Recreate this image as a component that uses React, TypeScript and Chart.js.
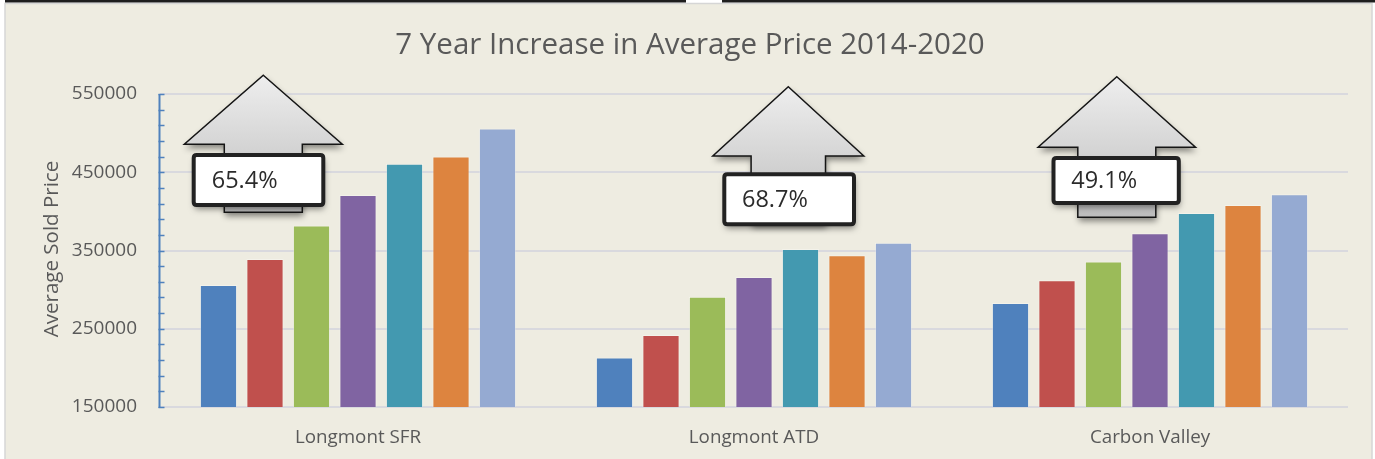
import React, { useEffect, useRef } from "react";
import { Chart, registerables } from "chart.js";

Chart.register(...registerables);

const CATEGORIES = ["Longmont SFR", "Longmont ATD", "Carbon Valley"];
const YEARS = ["2014", "2015", "2016", "2017", "2018", "2019", "2020"];
const V2014 = [306000, 213400, 283000];
const V2015 = [339000, 242000, 312000];
const V2016 = [382000, 291000, 336000];
const V2017 = [421000, 316000, 372000];
const V2018 = [461000, 352000, 398000];
const V2019 = [470000, 344000, 408000];
const V2020 = [506000, 360000, 422000];
const SERIES = [V2014, V2015, V2016, V2017, V2018, V2019, V2020];
const INCREASE_LABELS = ["65.4%", "68.7%", "49.1%"];
const Y_MIN = 150000;
const Y_MAX = 550000;
const Y_STEP = 100000;
const Y_MINOR_STEP = 20000;

const COLORS = ["#4F81BD", "#C0504D", "#9BBB59", "#8064A2", "#4399B0", "#DD843F", "#95AAD2"];
const FONT = "'Open Sans', 'DejaVu Sans', sans-serif";
const TEXT_COLOR = "#595959";
const TITLE = "7 Year Increase in Average Price 2014-2020";
const Y_TITLE = "Average Sold Price";

// annotation layout (pixel offsets relative to arrow tip)
const ARROW_LAYOUT = [
  { dx: -94.7, tipValue: 574000, headHalf: 79, headH: 69, shaftHalf: 39, shaftLen: 137, box: [-71.6, 62, 77.7, 131.7], textDx: -51.6 },
  { dx: 34.3, tipValue: 559300, headHalf: 75.5, headH: 69.3, shaftHalf: 37.2, shaftLen: 137, box: [-66, 67.7, 85.6, 139.6], textDx: -46.3 },
  { dx: -33.2, tipValue: 572100, headHalf: 78.7, headH: 70.6, shaftHalf: 39, shaftLen: 140.6, box: [-65.3, 64, 79.3, 128.3], textDx: -45.6 },
];

function roundRect(ctx: CanvasRenderingContext2D, x: number, y: number, w: number, h: number, r: number) {
  ctx.beginPath();
  ctx.moveTo(x + r, y);
  ctx.lineTo(x + w - r, y);
  ctx.quadraticCurveTo(x + w, y, x + w, y + r);
  ctx.lineTo(x + w, y + h - r);
  ctx.quadraticCurveTo(x + w, y + h, x + w - r, y + h);
  ctx.lineTo(x + r, y + h);
  ctx.quadraticCurveTo(x, y + h, x, y + h - r);
  ctx.lineTo(x, y + r);
  ctx.quadraticCurveTo(x, y, x + r, y);
  ctx.closePath();
}

const backgroundPlugin = {
  id: "bgPlugin",
  beforeDraw(chart: any) {
    const { ctx, width, height } = chart;
    ctx.save();
    ctx.fillStyle = "#FFFFFF";
    ctx.fillRect(0, 0, width, height);
    ctx.fillStyle = "#EEECE1";
    ctx.fillRect(5, 3, width - 8, height - 3);
    ctx.strokeStyle = "#D6D6D6";
    ctx.lineWidth = 1.5;
    ctx.strokeRect(5, 3.5, width - 8, height);
    ctx.fillStyle = "#1E1E1E";
    ctx.fillRect(5, 0, 681, 2.5);
    ctx.fillRect(722, 0, width - 722, 2.5);
    // title
    ctx.fillStyle = TEXT_COLOR;
    ctx.font = `29.5px ${FONT}`;
    ctx.textAlign = "center";
    ctx.textBaseline = "middle";
    ctx.fillText(TITLE, 690, 46);
    // y title
    ctx.save();
    ctx.translate(52, 249);
    ctx.rotate(-Math.PI / 2);
    ctx.font = `20.5px ${FONT}`;
    ctx.fillText(Y_TITLE, 0, 0);
    ctx.restore();
    ctx.restore();
  },
  afterDatasetsDraw(chart: any) {
    const { ctx, chartArea, scales } = chart;
    const y = scales.y;
    const x = scales.x;
    ctx.save();
    // blue value axis with minor ticks
    ctx.strokeStyle = "#4F81BD";
    ctx.lineWidth = 2;
    ctx.beginPath();
    ctx.moveTo(chartArea.left - 0.5, y.getPixelForValue(Y_MAX));
    ctx.lineTo(chartArea.left - 0.5, y.getPixelForValue(Y_MIN) + 1);
    ctx.stroke();
    for (let v = Y_MIN; v <= Y_MAX; v += Y_MINOR_STEP) {
      const py = Math.round(y.getPixelForValue(v)) + 0.5;
      ctx.beginPath();
      ctx.lineWidth = 1.5;
      ctx.moveTo(chartArea.left - 1.5, py);
      ctx.lineTo(chartArea.left + 4.5, py);
      ctx.stroke();
    }
    // arrows
    ARROW_LAYOUT.forEach((L, i) => {
      const tx = x.getPixelForValue(i) + L.dx;
      const ty = y.getPixelForValue(L.tipValue);
      ctx.save();
      ctx.beginPath();
      ctx.moveTo(tx, ty);
      ctx.lineTo(tx + L.headHalf, ty + L.headH);
      ctx.lineTo(tx + L.shaftHalf, ty + L.headH);
      ctx.lineTo(tx + L.shaftHalf, ty + L.shaftLen);
      ctx.lineTo(tx - L.shaftHalf, ty + L.shaftLen);
      ctx.lineTo(tx - L.shaftHalf, ty + L.headH);
      ctx.lineTo(tx - L.headHalf, ty + L.headH);
      ctx.closePath();
      const g = ctx.createLinearGradient(0, ty, 0, ty + L.shaftLen);
      g.addColorStop(0, "#EEEEEE");
      g.addColorStop(1, "#BDBDBD");
      ctx.fillStyle = g;
      ctx.shadowColor = "rgba(0,0,0,0.45)";
      ctx.shadowBlur = 6;
      ctx.shadowOffsetX = 1;
      ctx.shadowOffsetY = 4;
      ctx.fill();
      ctx.shadowColor = "transparent";
      ctx.strokeStyle = "#151515";
      ctx.lineWidth = 1.5;
      ctx.stroke();
      // box
      const [bl, br, bt, bb] = L.box;
      roundRect(ctx, tx + bl + 2, ty + bt + 2, br - bl - 4, bb - bt - 4, 3);
      ctx.fillStyle = "#FFFFFF";
      ctx.shadowColor = "rgba(0,0,0,0.45)";
      ctx.shadowBlur = 6;
      ctx.shadowOffsetX = 1;
      ctx.shadowOffsetY = 4;
      ctx.fill();
      ctx.shadowColor = "transparent";
      ctx.strokeStyle = "#222222";
      ctx.lineWidth = 4;
      ctx.stroke();
      ctx.fillStyle = "#2B2B2B";
      ctx.font = `23.5px ${FONT}`;
      ctx.textAlign = "left";
      ctx.textBaseline = "middle";
      ctx.fillText(INCREASE_LABELS[i], tx + L.textDx, ty + (bt + bb) / 2 + 1);
      ctx.restore();
    });
    ctx.restore();
  },
};

export default function App() {
  const ref = useRef<HTMLCanvasElement | null>(null);
  useEffect(() => {
    document.body.style.margin = "0";
    const canvas = ref.current;
    if (!canvas) return;
    const chart = new Chart(canvas, {
      type: "bar",
      data: {
        labels: CATEGORIES,
        datasets: SERIES.map((vals, i) => ({
          label: YEARS[i],
          data: vals,
          backgroundColor: COLORS[i],
          borderColor: "rgba(255,255,255,0.3)",
          borderWidth: 1,
          categoryPercentage: 0.822,
          barPercentage: 0.8,
        })),
      },
      options: {
        animation: false,
        responsive: true,
        maintainAspectRatio: false,
        layout: { padding: { top: 94, right: 27, bottom: 0, left: 0 } },
        plugins: {
          legend: { display: false },
          title: { display: false },
          tooltip: { enabled: false },
        },
        scales: {
          x: {
            grid: { display: false, drawTicks: false },
            border: { display: false },
            ticks: { color: TEXT_COLOR, font: { family: FONT, size: 18.8 }, padding: 19 },
            afterFit: (s: any) => {
              s.height = 52;
            },
          },
          y: {
            min: Y_MIN,
            max: Y_MAX,
            ticks: {
              stepSize: Y_STEP,
              color: TEXT_COLOR,
              font: { family: FONT, size: 19 },
              padding: 23,
              callback: (v: any) => String(v),
            },
            grid: { color: "#D9D9DE", lineWidth: 2, drawTicks: false },
            border: { display: false },
            afterFit: (s: any) => {
              s.width = 160;
            },
          },
        },
      },
      plugins: [backgroundPlugin],
    });
    return () => chart.destroy();
  }, []);
  return (
    <div style={{ width: 1375, height: 459, position: "relative" }}>
      <canvas ref={ref} />
    </div>
  );
}
